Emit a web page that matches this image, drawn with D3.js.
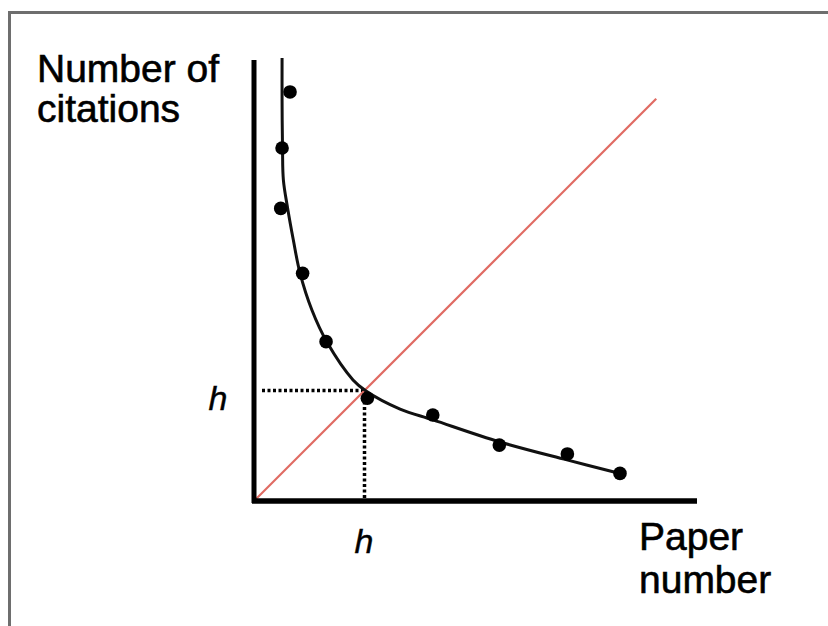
<!DOCTYPE html>
<html>
<head>
<meta charset="utf-8">
<script src="https://cdn.jsdelivr.net/npm/d3@7"></script>
<style>
  html, body { margin: 0; padding: 0; background: #fff; }
  svg { display: block; font-family: Arial, "Liberation Sans", sans-serif; }
</style>
</head>
<body>
<div id="chart"></div>
<script>
// Citation counts of papers ranked by number
const paperNumbers = [1.63, 1.27, 1.21, 2.20, 3.26, 5.13, 8.09, 11.10, 14.18, 16.56];
const citations = [18.51, 15.97, 13.24, 10.30, 7.21, 4.65, 3.89, 2.53, 2.13, 1.25];

// Points along the smooth fitted curve
const curveX = [1.27, 1.27, 1.29, 1.33, 1.52, 1.78, 2.08, 2.62, 3.30, 4.48, 5.07, 6.61, 8.10, 11.13, 14.16, 16.47];
const curveY = [20.05, 18.14, 15.97, 14.52, 13.26, 11.81, 10.32, 8.64, 7.19, 5.48, 4.98, 4.16, 3.67, 2.67, 1.86, 1.27];

// The diagonal (citations = paper number) and the h-index
const diagonal = [0, 18.2];
const hIndex = 5;

const width = 828;
const height = 626;

const svg = d3.select('#chart').append('svg')
  .attr('width', width)
  .attr('height', height);

// Frame around the picture
svg.append('rect')
  .attr('x', 9.5)
  .attr('y', 12.5)
  .attr('width', 900)
  .attr('height', 700)
  .style('fill', 'none')
  .style('stroke', '#6e6e6e')
  .style('stroke-width', 3);

const x = d3.scaleLinear().domain([0, 20]).range([254, 696]);
const y = d3.scaleLinear().domain([0, 20]).range([501, 59]);

// Dotted guide lines to h
svg.append('line')
  .attr('x1', x(0) + 8)
  .attr('y1', y(hIndex))
  .attr('x2', x(hIndex))
  .attr('y2', y(hIndex))
  .style('stroke', '#000')
  .style('stroke-width', 3.5)
  .style('stroke-dasharray', '3,2.5');

svg.append('line')
  .attr('x1', x(hIndex))
  .attr('y1', y(hIndex))
  .attr('x2', x(hIndex))
  .attr('y2', y(0))
  .style('stroke', '#000')
  .style('stroke-width', 3.5)
  .style('stroke-dasharray', '3,2.5');

// Red diagonal
svg.append('line')
  .attr('x1', x(diagonal[0]))
  .attr('y1', y(diagonal[0]))
  .attr('x2', x(diagonal[1]))
  .attr('y2', y(diagonal[1]))
  .style('stroke', '#e06b63')
  .style('stroke-width', 2.2);

// Fitted curve
const curveData = curveX.map((d, i) => ({ x: d, y: curveY[i] }));
const line = d3.line()
  .x(d => x(d.x))
  .y(d => y(d.y))
  .curve(d3.curveCatmullRom.alpha(0.5));

svg.append('path')
  .datum(curveData)
  .attr('d', line)
  .style('fill', 'none')
  .style('stroke', '#111')
  .style('stroke-width', 3);

// Data points
const points = paperNumbers.map((d, i) => ({ x: d, y: citations[i] }));
svg.selectAll('circle.pt')
  .data(points)
  .enter()
  .append('circle')
  .attr('class', 'pt')
  .attr('cx', d => x(d.x))
  .attr('cy', d => y(d.y))
  .attr('r', 6.8)
  .style('fill', '#000');

// Axes drawn as thick plain lines
svg.append('line')
  .attr('x1', x(0))
  .attr('y1', y(0) + 2)
  .attr('x2', x(0))
  .attr('y2', 60)
  .style('stroke', '#000')
  .style('stroke-width', 5);

svg.append('line')
  .attr('x1', x(0) - 2)
  .attr('y1', y(0))
  .attr('x2', 697)
  .attr('y2', y(0))
  .style('stroke', '#000')
  .style('stroke-width', 5.5);

// Axis titles
const yTitle = svg.append('text')
  .style('font-size', '39px')
  .style('fill', '#000')
  .style('stroke', '#000')
  .style('stroke-width', 0.6);
yTitle.append('tspan').attr('x', 37).attr('y', 82).text('Number of');
yTitle.append('tspan').attr('x', 37).attr('y', 122).text('citations');

const xTitle = svg.append('text')
  .style('font-size', '39px')
  .style('fill', '#000')
  .style('stroke', '#000')
  .style('stroke-width', 0.6);
xTitle.append('tspan').attr('x', 639).attr('y', 550).text('Paper');
xTitle.append('tspan').attr('x', 639).attr('y', 593).text('number');

// h labels
svg.append('text')
  .attr('x', 218)
  .attr('y', 410)
  .style('text-anchor', 'middle')
  .style('font-size', '34px')
  .style('font-style', 'italic')
  .style('stroke', '#000')
  .style('stroke-width', 0.4)
  .text('h');

svg.append('text')
  .attr('x', 364)
  .attr('y', 553)
  .style('text-anchor', 'middle')
  .style('font-size', '34px')
  .style('font-style', 'italic')
  .style('stroke', '#000')
  .style('stroke-width', 0.4)
  .text('h');
</script>
</body>
</html>
